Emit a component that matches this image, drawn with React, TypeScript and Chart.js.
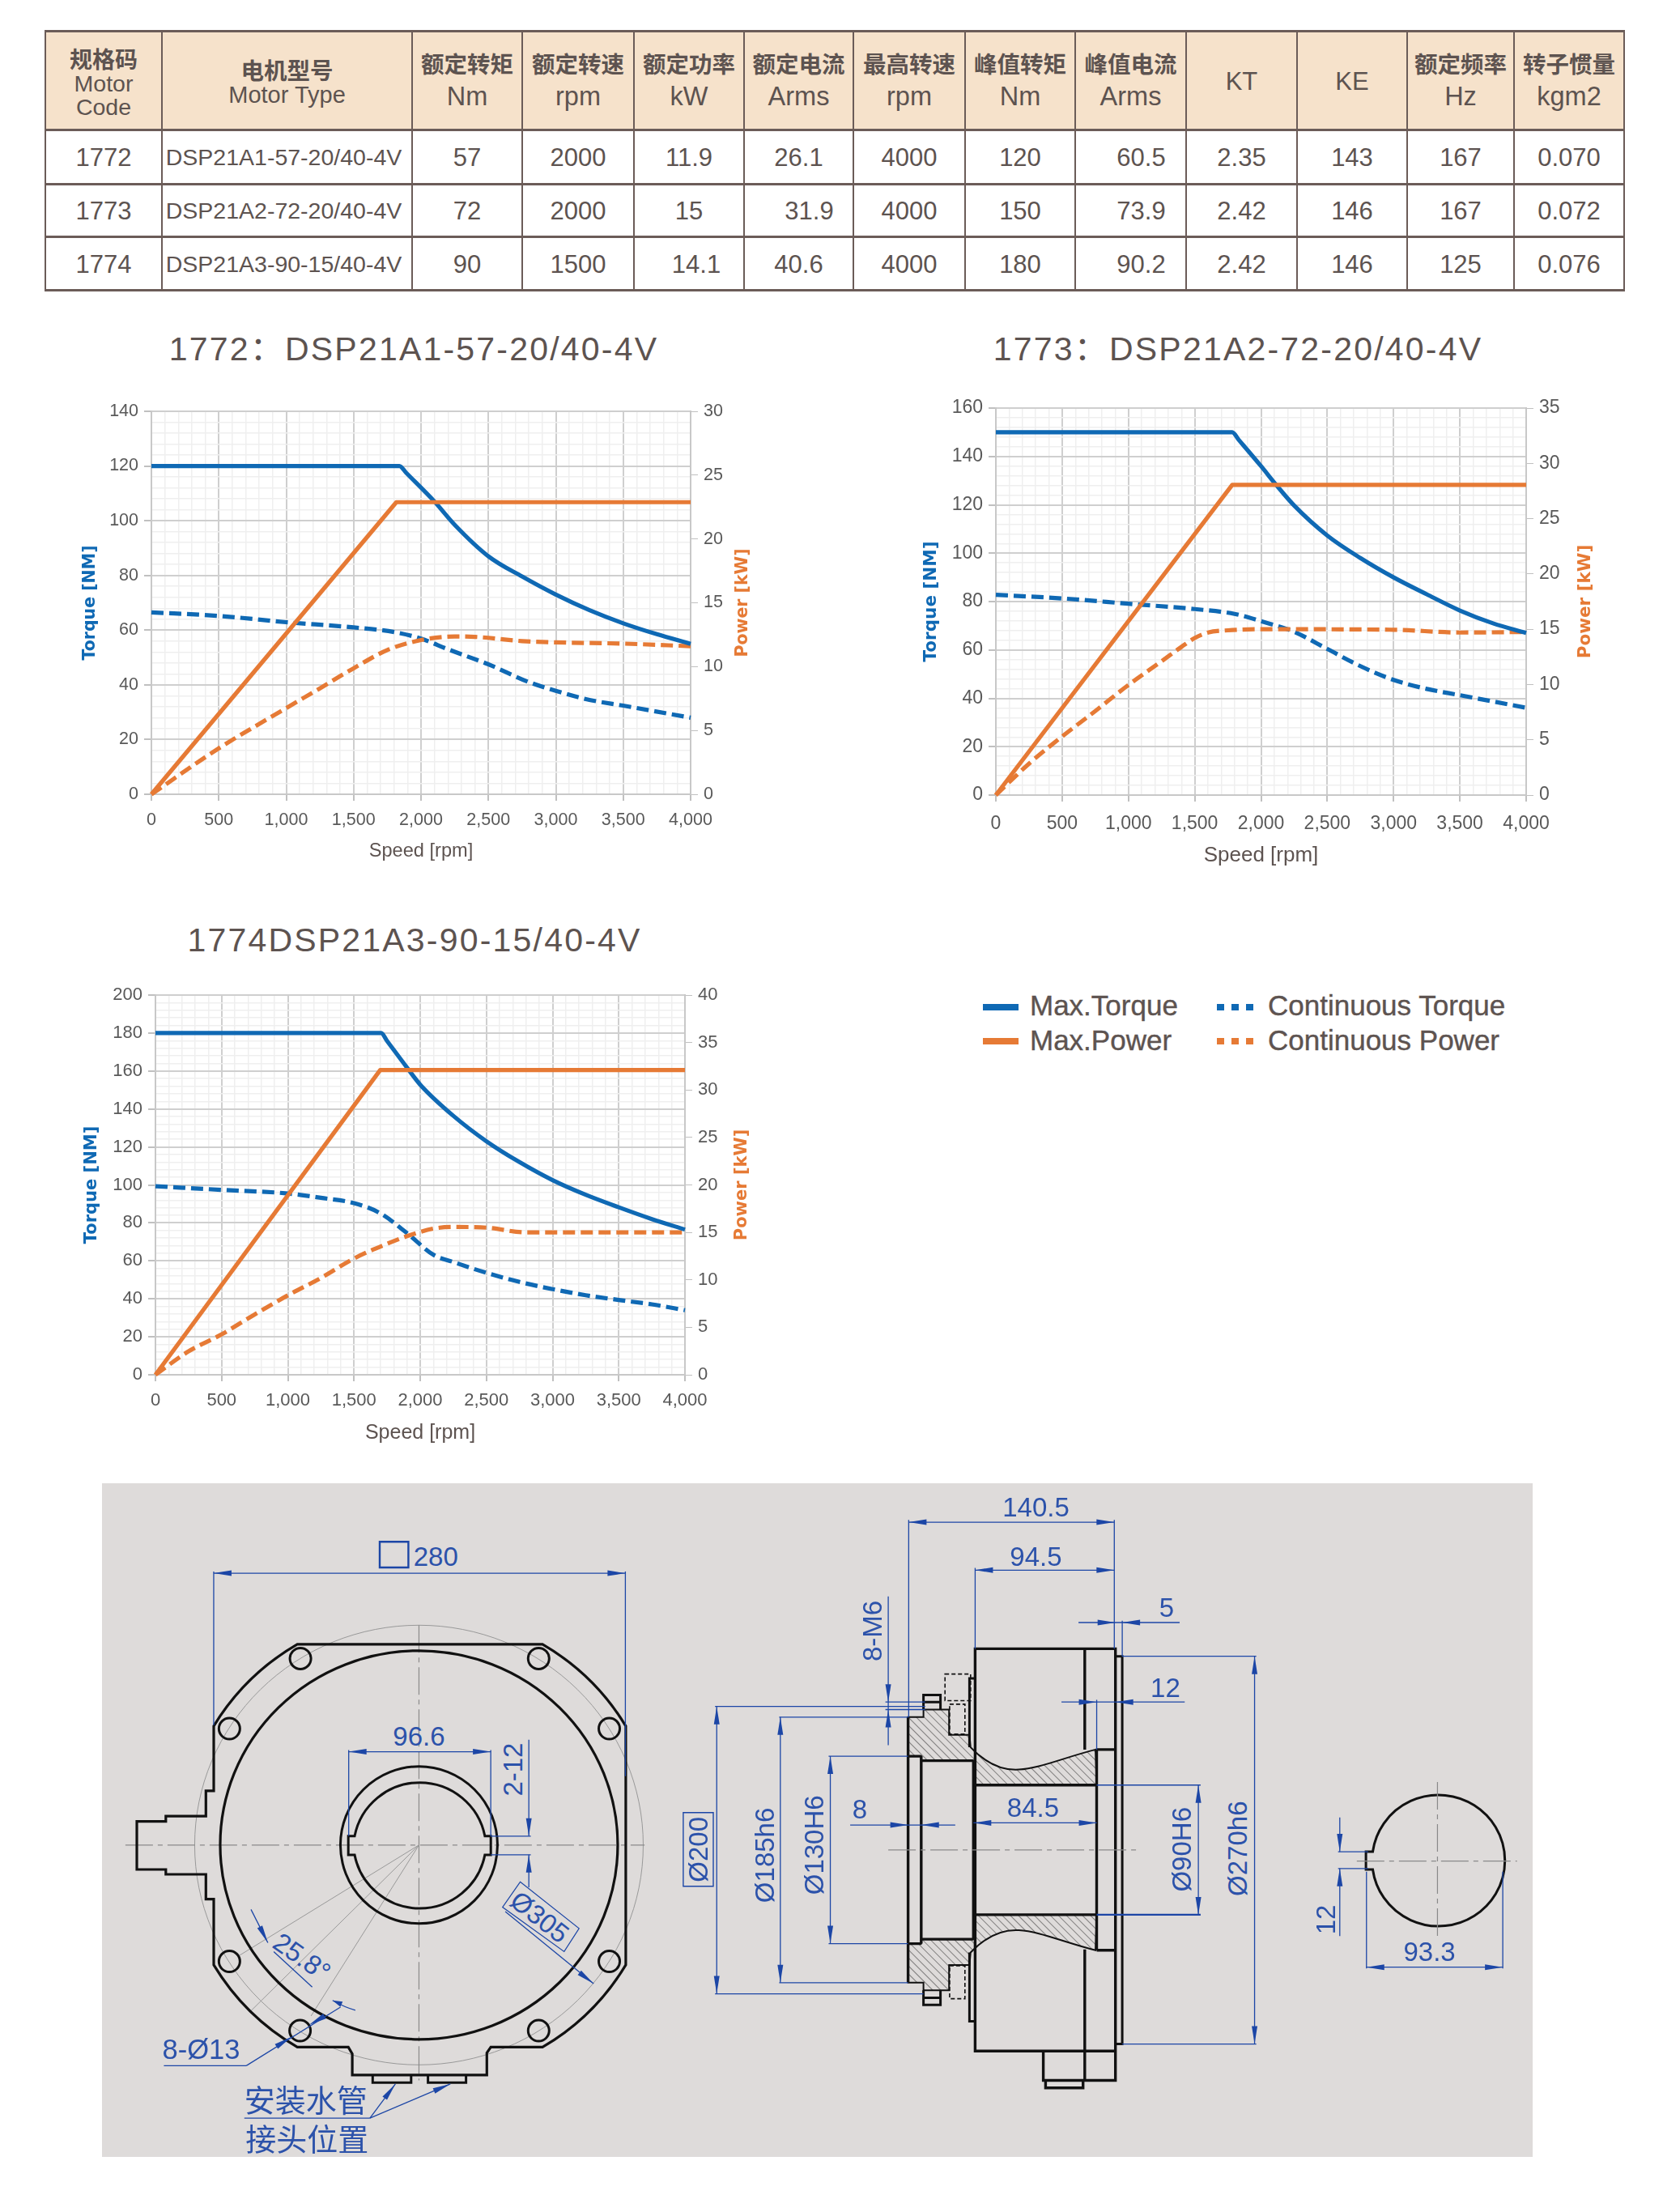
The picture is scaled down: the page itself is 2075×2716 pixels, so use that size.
import React, { useEffect, useRef } from "react";
import { Chart, registerables } from "chart.js";

Chart.register(...registerables);

// ---------- table ----------
const headerZh = ["额定转矩", "额定转速", "额定功率", "额定电流", "最高转速", "峰值转矩", "峰值电流", "", "", "额定频率", "转子惯量"];
const headerUnits = ["Nm", "rpm", "kW", "Arms", "rpm", "Nm", "Arms", "KT", "KE", "Hz", "kgm2"];
const row1772 = ["1772", "DSP21A1-57-20/40-4V", "57", "2000", "11.9", "26.1", "4000", "120", "60.5", "2.35", "143", "167", "0.070"];
const row1773 = ["1773", "DSP21A2-72-20/40-4V", "72", "2000", "15", "31.9", "4000", "150", "73.9", "2.42", "146", "167", "0.072"];
const row1774 = ["1774", "DSP21A3-90-15/40-4V", "90", "1500", "14.1", "40.6", "4000", "180", "90.2", "2.42", "146", "125", "0.076"];
const tableRows = [row1772, row1773, row1774];

// ---------- chart data: 1772 ----------
const maxTorqueRpm1772 = [0, 1840, 1890, 2100, 2250, 2500, 2750, 3000, 3250, 3500, 3750, 4000];
const maxTorque1772 = [120, 120, 117.5, 107, 98.5, 87, 79.6, 73, 67.3, 62.5, 58.5, 55];
const maxPowerRpm1772 = [0, 1817, 4000];
const maxPower1772 = [0, 22.88, 22.88];
const contTorqueRpm1772 = [0, 500, 1000, 1500, 1800, 2000, 2200, 2500, 2800, 3000, 3250, 3500, 4000];
const contTorque1772 = [66.5, 65.2, 62.9, 61, 59.3, 56.9, 53, 47.5, 41, 37.8, 34.5, 32.4, 28];
const contPowerRpm1772 = [0, 500, 1000, 1250, 1500, 1750, 2000, 2250, 2400, 2750, 3000, 3500, 4000];
const contPower1772 = [0, 3.6, 6.75, 8.3, 9.87, 11.3, 12.08, 12.36, 12.33, 12, 11.9, 11.8, 11.6];

// ---------- chart data: 1773 ----------
const maxTorqueRpm1773 = [0, 1783, 1830, 2000, 2115, 2250, 2500, 2750, 3000, 3250, 3500, 3750, 4000];
const maxTorque1773 = [150, 150, 147, 136, 128.2, 119.7, 107.3, 98, 90, 83, 76.3, 71, 67];
const maxPowerRpm1773 = [0, 1783, 4000];
const maxPower1773 = [0, 28.05, 28.05];
const contTorqueRpm1773 = [0, 500, 1000, 1500, 1800, 2000, 2250, 2500, 2750, 3000, 3250, 3500, 3750, 4000];
const contTorque1773 = [82.8, 81.3, 79.1, 76.9, 74.9, 71.9, 67.5, 60.4, 53.3, 47.6, 43.9, 41.3, 38.7, 36.1];
const contPowerRpm1773 = [0, 250, 500, 750, 1000, 1250, 1400, 1500, 1600, 1750, 2000, 3000, 3500, 4000];
const contPower1773 = [0, 2.84, 5.3, 7.6, 9.96, 12.1, 13.4, 14.2, 14.7, 14.9, 15, 14.95, 14.7, 14.75];

// ---------- chart data: 1774 ----------
const maxTorqueRpm1774 = [0, 1705, 1750, 1898, 2003, 2250, 2500, 2750, 3000, 3250, 3500, 3750, 4000];
const maxTorque1774 = [180, 180, 175.8, 162, 152.6, 136.4, 123, 112, 102.5, 94.8, 88.2, 82, 76.5];
const maxPowerRpm1774 = [0, 1698, 4000];
const maxPower1774 = [0, 32.1, 32.1];
const contTorqueRpm1774 = [0, 500, 1000, 1250, 1500, 1700, 1900, 2100, 2250, 2500, 2750, 3000, 3250, 3500, 3750, 4000];
const contTorque1774 = [99.3, 97.4, 95.5, 93.2, 90.4, 85, 74.6, 63.2, 59.4, 53.7, 48.9, 45.1, 41.9, 39.4, 37.1, 34];
const contPowerRpm1774 = [0, 250, 500, 750, 1000, 1250, 1500, 1750, 1900, 2100, 2250, 2500, 2800, 4000];
const contPower1774 = [0, 2.47, 4.26, 6.36, 8.37, 10.2, 12.25, 13.8, 14.6, 15.4, 15.57, 15.5, 15, 15];

// ---------- labels ----------
const seriesNames = ["Max.Torque", "Max.Power", "Continuous Torque", "Continuous Power"];
const torqueAxisTitle = "Torque [NM]";
const powerAxisTitle = "Power [kW]";
const speedAxisTitle = "Speed [rpm]";

const BLUE = "#0F69B4";
const ORANGE = "#E67A35";
const TEXT = "#5D5350";
const TICK = "#595959";
const pts = (xs: number[], ys: number[]) => xs.map((x, i) => ({ x, y: ys[i] }));

const powerTitlePlugin = {
  id: "powerTitle",
  afterDraw(chart: any, _a: any, opts: any) {
    const { ctx, chartArea } = chart;
    ctx.save();
    ctx.translate(chartArea.right + opts.offset, (chartArea.top + chartArea.bottom) / 2);
    ctx.rotate(-Math.PI / 2);
    ctx.font = `bold ${opts.size}px 'DejaVu Sans'`;
    ctx.fillStyle = ORANGE;
    ctx.textAlign = "center";
    ctx.textBaseline = "middle";
    ctx.fillText(powerAxisTitle, 0, 0);
    ctx.restore();
  },
};

type Spec = {
  plot: [number, number, number, number];
  torqueMax: number; powerMax: number;
  torqueOffset: number; powerOffset: number;
  tickSize: number; tickPad: number; speedSize: number; speedBottom: number; axisTitleSize: number;
  series: { x: number[]; y: number[] }[];
};

const specs: Spec[] = [
  { plot: [187, 853, 508, 981], torqueMax: 140, powerMax: 30, torqueOffset: 75, powerOffset: 65,
    tickSize: 21.5, tickPad: 11.5, speedSize: 23.6, speedBottom: 5, axisTitleSize: 20.5,
    series: [{ x: maxTorqueRpm1772, y: maxTorque1772 }, { x: maxPowerRpm1772, y: maxPower1772 }, { x: contTorqueRpm1772, y: contTorque1772 }, { x: contPowerRpm1772, y: contPower1772 }] },
  { plot: [1230, 1885, 504, 982], torqueMax: 160, powerMax: 35, torqueOffset: 80, powerOffset: 73,
    tickSize: 23, tickPad: 14, speedSize: 26, speedBottom: 0, axisTitleSize: 21.5,
    series: [{ x: maxTorqueRpm1773, y: maxTorque1773 }, { x: maxPowerRpm1773, y: maxPower1773 }, { x: contTorqueRpm1773, y: contTorque1773 }, { x: contPowerRpm1773, y: contPower1773 }] },
  { plot: [192, 846, 1229, 1698], torqueMax: 200, powerMax: 40, torqueOffset: 78, powerOffset: 71,
    tickSize: 22, tickPad: 11, speedSize: 25, speedBottom: 3, axisTitleSize: 21,
    series: [{ x: maxTorqueRpm1774, y: maxTorque1774 }, { x: maxPowerRpm1774, y: maxPower1774 }, { x: contTorqueRpm1774, y: contTorque1774 }, { x: contPowerRpm1774, y: contPower1774 }] },
];

function MotorChart({ spec }: { spec: Spec }) {
  const ref = useRef<HTMLCanvasElement>(null);
  const [l, r, t, b] = spec.plot;
  const padL = 100, padR = 90, padT = 30, padB = 90;
  const w = r - l + padL + padR, h = b - t + padT + padB;
  useEffect(() => {
    const tickFont = { family: "'Liberation Sans'", size: spec.tickSize };
    const ds = (i: number, color: string, dashed: boolean, axis: string, name: string, smooth: boolean) => ({
      label: name,
      data: pts(spec.series[i].x, spec.series[i].y),
      yAxisID: axis,
      borderColor: color,
      borderWidth: 5.2,
      borderDash: dashed ? [15, 7] : [],
      pointRadius: 0,
      fill: false,
      clip: false as any,
      tension: 0,
      cubicInterpolationMode: smooth ? "monotone" : "default",
      borderJoinStyle: "round",
    });
    const chart = new Chart(ref.current!, {
      type: "line",
      data: {
        datasets: [
          ds(1, ORANGE, false, "yP", seriesNames[1], false),
          ds(0, BLUE, false, "yT", seriesNames[0], true),
          ds(3, ORANGE, true, "yP", seriesNames[3], true),
          ds(2, BLUE, true, "yT", seriesNames[2], true),
        ],
      } as any,
      plugins: [powerTitlePlugin as any],
      options: {
        animation: false,
        responsive: false,
        devicePixelRatio: 1,
        layout: { padding: { top: padT, left: 0, right: 0, bottom: 0 } },
        plugins: { legend: { display: false }, tooltip: { enabled: false }, powerTitle: { offset: spec.powerOffset, size: spec.axisTitleSize } } as any,
        scales: {
          x: {
            type: "linear", min: 0, max: 4000,
            afterFit: (s: any) => { s.height = padB; },
            border: { color: "#C8C8C8", width: 2 },
            grid: {
              color: (c: any) => (c.tick.value % 500 === 0 ? "#CFCFCF" : "#EFEFEF"),
              lineWidth: (c: any) => (c.tick.value % 500 === 0 ? 2 : 1.5),
              tickColor: (c: any) => (c.tick.value % 500 === 0 ? "#C0C0C0" : "transparent"),
              tickLength: 8,
            },
            ticks: {
              stepSize: 100, autoSkip: false, maxRotation: 0, minRotation: 0, padding: spec.tickPad,
              color: TICK, font: tickFont,
              callback: (v: any) => (v % 500 === 0 ? Number(v).toLocaleString("en-US") : ""),
            },
            title: { display: true, text: speedAxisTitle, color: TEXT, font: { family: "'Liberation Sans'", size: spec.speedSize }, padding: { top: 0, bottom: spec.speedBottom } },
          },
          yT: {
            type: "linear", position: "left", min: 0, max: spec.torqueMax,
            afterFit: (s: any) => { s.width = padL; },
            border: { color: "#C8C8C8", width: 2 },
            grid: {
              color: (c: any) => (c.tick.value % 20 === 0 ? "#CFCFCF" : "#EFEFEF"),
              lineWidth: (c: any) => (c.tick.value % 20 === 0 ? 2 : 1.5),
              tickColor: (c: any) => (c.tick.value % 20 === 0 ? "#C0C0C0" : "transparent"),
              tickLength: 9,
            },
            ticks: {
              stepSize: 4, autoSkip: false, padding: 7, color: TICK, font: tickFont,
              callback: (v: any) => (v % 20 === 0 ? String(v) : ""),
            },
            title: { display: true, text: torqueAxisTitle, color: BLUE, font: { family: "'DejaVu Sans'", size: spec.axisTitleSize, weight: "bold" }, padding: { top: padL - spec.torqueOffset - spec.axisTitleSize * 0.6, bottom: 0 } },
          },
          yP: {
            type: "linear", position: "right", min: 0, max: spec.powerMax,
            afterFit: (s: any) => { s.width = padR; },
            border: { color: "#C8C8C8", width: 2 },
            grid: { drawOnChartArea: false, tickColor: "#C0C0C0", tickLength: 9 },
            ticks: { stepSize: 5, autoSkip: false, padding: 7, color: TICK, font: tickFont },
          },
        },
      } as any,
    });
    return () => chart.destroy();
  }, []);
  return <canvas ref={ref} width={w} height={h} style={{ position: "absolute", left: l - padL, top: t - padT, width: w, height: h, display: "block" }} />;
}

// ---------- layout helpers ----------
function Txt({ x, y, size, children, color = TEXT, weight = 400, spacing = 0, family = "'Liberation Sans','Noto Sans CJK SC'" }: any) {
  return (
    <div style={{ position: "absolute", left: x, top: y, transform: "translate(-50%,-50%)", fontSize: size, color, fontWeight: weight, letterSpacing: spacing, fontFamily: family, whiteSpace: "nowrap", lineHeight: 1 }}>
      {children}
    </div>
  );
}

const colX = [56, 200, 509, 645, 783, 919, 1054, 1192, 1328, 1465, 1602, 1738, 1870, 2006];
const rowY = [38, 160, 227, 292, 358];
const bodyY = [194, 260, 326];
const CJK = "'Noto Sans CJK SC','Liberation Sans'";
const nudgeOf = (r: number, c: number) => {
  if (c === 1) return -4;
  if (c === 8) return 13;
  if (c === 5 && r === 1) return 13;
  if (c === 4 && r === 2) return 9;
  return 0;
};

function SpecTable() {
  const center = (c: number) => (colX[c] + colX[c + 1]) / 2;
  return (
    <>
      <div style={{ position: "absolute", left: colX[0], top: rowY[0], width: colX[13] - colX[0], height: rowY[1] - rowY[0], background: "#F6E2CB" }} />
      {colX.map((x) => <div key={x} style={{ position: "absolute", left: x - 1, top: rowY[0], width: 2, height: rowY[4] - rowY[0], background: "#6B5C58" }} />)}
      {rowY.map((y) => <div key={y} style={{ position: "absolute", left: colX[0] - 1, top: y - 1, width: colX[13] - colX[0] + 2, height: 2.5, background: "#6B5C58" }} />)}
      <Txt x={center(0)} y={71.5} size={28} family={CJK} weight={700}>规格码</Txt>
      <Txt x={center(0)} y={102.5} size={28.5}>Motor</Txt>
      <Txt x={center(0)} y={132} size={28.5}>Code</Txt>
      <Txt x={center(1)} y={86} size={28.5} family={CJK} weight={700}>电机型号</Txt>
      <Txt x={center(1)} y={117} size={29}>Motor Type</Txt>
      {headerUnits.map((u, i) => (
        <React.Fragment key={i}>
          {headerZh[i] ? <Txt x={center(i + 2)} y={78} size={28.5} family={CJK} weight={700}>{headerZh[i]}</Txt> : null}
          <Txt x={center(i + 2)} y={headerZh[i] ? 118.5 : 100} size={headerZh[i] ? 32.5 : 31}>{u}</Txt>
        </React.Fragment>
      ))}
      {tableRows.map((row, r) => row.map((v, c) => (
        <Txt key={r + "-" + c} x={center(c) + nudgeOf(r, c)} y={bodyY[r]} size={c === 1 ? 28.5 : 31}>{v}</Txt>
      )))}
    </>
  );
}

function Legend() {
  const solid = (top: number, bg: string) => <div style={{ position: "absolute", left: 1214, top, width: 44, height: 8, background: bg }} />;
  const dots = (top: number, bg: string) => [1503, 1521, 1539].map((x) => <div key={x} style={{ position: "absolute", left: x, top, width: 8.5, height: 8, background: bg }} />);
  const label = (x: number, y: number, s: string) => <div style={{ position: "absolute", left: x, top: y, transform: "translateY(-50%)", fontSize: 35, color: TEXT, fontFamily: "'Liberation Sans'", lineHeight: 1, whiteSpace: "nowrap", WebkitTextStroke: "0.4px " + TEXT } as any}>{s}</div>;
  return (
    <>
      {solid(1240, BLUE)}{solid(1282, ORANGE)}{dots(1240, BLUE)}{dots(1282, ORANGE)}
      {label(1272, 1241, seriesNames[0])}{label(1272, 1284, seriesNames[1])}
      {label(1566, 1241, seriesNames[2])}{label(1566, 1284, seriesNames[3])}
    </>
  );
}

// ---------- engineering drawing (illustration, not chart data) ----------
const LV = (x: number, y: number): [number, number] => [120 + x * 0.4847, 1840 + y * 0.5485];
const RV = (x: number, y: number): [number, number] => [820 + x * 0.7015, 1840 + y * 0.5485];
const mapD = (d: string, f: any, mirror = false) =>
  d.replace(/(-?\d+(?:\.\d+)?),(-?\d+(?:\.\d+)?)/g, (_m, a, b) => {
    const p = f(+a, mirror ? 1622 - +b : +b);
    return p[0].toFixed(1) + "," + p[1].toFixed(1);
  });
const DIM = "#1C46A6";
const DTXT = "#2C52AA";

function Line({ v, a, b, c = DIM, w = 1.3, dash }: any) {
  const p = v(a[0], a[1]), q = v(b[0], b[1]);
  return <line x1={p[0]} y1={p[1]} x2={q[0]} y2={q[1]} stroke={c} strokeWidth={w} strokeDasharray={dash} />;
}
function Arrow({ v, tip, from, len = 22 }: any) {
  const p = v(tip[0], tip[1]), q = v(from[0], from[1]);
  const ang = Math.atan2(q[1] - p[1], q[0] - p[0]);
  const cx = p[0] + Math.cos(ang) * len, cy = p[1] + Math.sin(ang) * len;
  const nx = -Math.sin(ang) * 3.5, ny = Math.cos(ang) * 3.5;
  return <polygon points={`${p[0]},${p[1]} ${cx + nx},${cy + ny} ${cx - nx},${cy - ny}`} fill={DIM} />;
}
function Label({ v, at, s, size = 33, rot = 0, color = DTXT, family = "'Liberation Sans','Noto Sans CJK SC'" }: any) {
  const p = v(at[0], at[1]);
  return <text x={p[0]} y={p[1]} fontSize={size} fill={color} fontFamily={family} textAnchor="middle" dominantBaseline="central" transform={rot ? `rotate(${rot} ${p[0]} ${p[1]})` : undefined}>{s}</text>;
}
function Shape({ v, d, w = 3, fill = "none", c = "#111", mirror = false, dash }: any) {
  return <path d={mapD(d, v, mirror)} fill={fill} stroke={c} strokeWidth={w} strokeDasharray={dash} strokeLinejoin="miter" />;
}

const plateOutline = "M510,348 L1135,348 A 292 292 0 0 1 1347,532 L1347,1070 A 292 292 0 0 1 1135,1255 L1003,1255 L993,1268 L993,1318 L650,1318 L650,1270 L640,1255 L510,1255 A 292 292 0 0 1 297,1070 L297,922 L277,922 L277,866 L175,866 L175,855 L101,855 L101,747 L175,747 L175,735 L277,735 L277,678 L297,678 L297,532 A 292 292 0 0 1 510,348 Z";
const boltHoles: [number, number][] = [[518, 380], [1125, 380], [337, 538], [1305, 538], [337, 1062], [1305, 1062], [517, 1218], [1125, 1218]];
const hubSection = "M430,512 L457,512 L457,495 L502,495 L502,552 L538,552 L540,580 C570,620 600,632 625,630 C660,628 700,605 760,585 L762,665 L545,665 L545,610 L453,610 L453,600 L430,600 Z";

function Drawing() {
  const c = LV(820, 800);
  return (
    <svg width={2075} height={2716} style={{ position: "absolute", left: 0, top: 0 }}>
      <defs>
        <pattern id="hatch" patternUnits="userSpaceOnUse" width="7" height="7" patternTransform="rotate(-45)">
          <line x1="0" y1="0" x2="0" y2="7" stroke="#222" strokeWidth="1" />
        </pattern>
      </defs>
      <rect x={126} y={1832} width={1767} height={832} fill="#DEDBDA" />
      {/* left view */}
      <ellipse cx={c[0]} cy={c[1]} rx={277} ry={271.5} fill="none" stroke="#999" strokeWidth={1} />
      <Line v={LV} a={[72, 800]} b={[1395, 800]} c="#8A8A8A" w={1.2} dash="34 6 6 6" />
      <Line v={LV} a={[820, 305]} b={[820, 1330]} c="#8A8A8A" w={1.2} dash="34 6 6 6" />
      <Line v={LV} a={[820, 800]} b={[390, 1175]} c="#999" w={1} />
      <Line v={LV} a={[820, 800]} b={[360, 1050]} c="#999" w={1} />
      <Line v={LV} a={[820, 800]} b={[545, 1185]} c="#999" w={1} />
      <Shape v={LV} d={plateOutline} w={3.2} />
      <ellipse cx={c[0]} cy={c[1]} rx={245.5} ry={240} fill="none" stroke="#111" strokeWidth={3.2} />
      <circle cx={c[0]} cy={c[1]} r={97} fill="none" stroke="#111" strokeWidth={3} />
      <Shape v={LV} d="M656,780 A 82 82 0 0 1 988,780 L1003,780 L1003,822 L988,822 A 82 82 0 0 1 656,822 L640,822 L640,780 Z" w={3} />
      {boltHoles.map(([x, y]) => { const p = LV(x, y); return <circle key={x + "-" + y} cx={p[0]} cy={p[1]} r={13} fill="none" stroke="#111" strokeWidth={3} />; })}
      <Shape v={LV} d="M702,1318 L702,1335 L800,1335 L800,1318 M843,1318 L843,1335 L940,1335 L940,1318" w={3} />
      {/* left dims */}
      <Line v={LV} a={[297, 188]} b={[1346, 188]} />
      <Line v={LV} a={[297, 184]} b={[297, 530]} />
      <Line v={LV} a={[1346, 184]} b={[1346, 645]} />
      <Arrow v={LV} tip={[297, 188]} from={[400, 188]} />
      <Arrow v={LV} tip={[1346, 188]} from={[1200, 188]} />
      <Shape v={LV} d="M720,117 L793,117 L793,175 L720,175 Z" w={2.4} c={DIM} />
      <Label v={LV} at={[863, 150]} s="280" />
      <Line v={LV} a={[641, 590]} b={[1003, 590]} />
      <Line v={LV} a={[641, 586]} b={[641, 780]} />
      <Line v={LV} a={[1003, 586]} b={[1003, 780]} />
      <Arrow v={LV} tip={[641, 590]} from={[800, 590]} />
      <Arrow v={LV} tip={[1003, 590]} from={[800, 590]} />
      <Label v={LV} at={[820, 555]} s="96.6" />
      <Label v={LV} at={[1060, 630]} s="2-12" rot={-90} />
      <Line v={LV} a={[1100, 563]} b={[1100, 780]} />
      <Line v={LV} a={[1100, 822]} b={[1100, 895]} />
      <Line v={LV} a={[1003, 780]} b={[1105, 780]} />
      <Line v={LV} a={[1003, 822]} b={[1105, 822]} />
      <Arrow v={LV} tip={[1100, 780]} from={[1100, 600]} />
      <Arrow v={LV} tip={[1100, 822]} from={[1100, 890]} />
      <Label v={LV} at={[1128, 962]} s="Ø305" rot={38} />
      <Shape v={LV} d="M1078,883 L1228,988 L1190,1040 L1033,940 Z" w={1.2} c={DIM} />
      <Line v={LV} a={[1040, 950]} b={[1265, 1112]} />
      <Arrow v={LV} tip={[1265, 1112]} from={[1100, 1000]} />
      <Label v={LV} at={[522, 1052]} s="25.8°" rot={35} />
      <Line v={LV} a={[450, 1040]} b={[548, 1120]} />
      <Line v={LV} a={[392, 945]} b={[435, 1020]} />
      <Arrow v={LV} tip={[435, 1020]} from={[392, 945]} />
      <Shape v={LV} d="M600,1150 C620,1160 640,1168 658,1172" w={1.2} c={DIM} />
      <Arrow v={LV} tip={[600, 1150]} from={[658, 1172]} len={12} />
      <Label v={LV} at={[265, 1260]} s="8-Ø13" size={34.5} />
      <Line v={LV} a={[170, 1297]} b={[380, 1297]} />
      <Line v={LV} a={[380, 1297]} b={[620, 1165]} />
      <Arrow v={LV} tip={[495, 1232]} from={[380, 1297]} />
      <Arrow v={LV} tip={[540, 1205]} from={[610, 1170]} />
      <Label v={LV} at={[532, 1371]} s="安装水管" size={38} family="'Noto Sans CJK SC'" />
      <Label v={LV} at={[535, 1458]} s="接头位置" size={38} family="'Noto Sans CJK SC'" />
      <Line v={LV} a={[375, 1415]} b={[695, 1415]} />
      <Line v={LV} a={[695, 1415]} b={[760, 1338]} />
      <Line v={LV} a={[695, 1415]} b={[900, 1338]} />
      <Arrow v={LV} tip={[760, 1338]} from={[695, 1415]} />
      <Arrow v={LV} tip={[900, 1338]} from={[695, 1415]} />
      {/* section view */}
      <Shape v={RV} d={hubSection} fill="url(#hatch)" w={2} />
      <Shape v={RV} d={hubSection} fill="url(#hatch)" w={2} mirror />
      <Shape v={RV} d="M548,358 L795,358 L795,1264 L548,1264 Z M548,358 L548,595 M741,358 L741,585 M741,1035 L741,1330 M795,1264 L795,1330 L668,1330 L668,1264 M672,1330 L672,1347 L738,1347 L738,1330" w={3.4} />
      <Shape v={RV} d="M795,375 L807,375 L807,1248 L795,1248" w={3} />
      <Shape v={RV} d="M548,425 L538,425 L538,580 M548,1197 L538,1197 L538,1042" w={3} />
      <Shape v={RV} d="M545,665 L762,665 M762,585 L795,585 M762,585 L762,1037 M762,1037 L795,1037 M545,957 L762,957 M545,610 L545,1012 M430,512 L430,1110 M453,600 L453,1022 M430,600 L453,600 M430,1022 L453,1022 M453,610 L545,610 M453,1012 L545,1012" w={3.4} />
      <Shape v={RV} d="M457,495 L457,462 L487,462 L487,495 M457,478 L487,478" w={3} />
      <Shape v={RV} d="M457,495 L457,462 L487,462 L487,495 M457,478 L487,478" w={3} mirror />
      <Shape v={RV} d="M495,415 L540,415 L540,475 L495,475 Z M503,483 L530,483 L530,550 L503,550 Z" w={1.6} dash="5 3" />
      <Shape v={RV} d="M503,1072 L530,1072 L530,1146 L503,1146 Z" w={1.6} dash="5 3" />
      <Line v={RV} a={[395, 811]} b={[833, 811]} c="#8A8A8A" w={1.2} dash="34 6 6 6" />
      {/* section dims */}
      <Line v={RV} a={[431, 73]} b={[793, 73]} />
      <Line v={RV} a={[431, 68]} b={[431, 512]} />
      <Line v={RV} a={[793, 68]} b={[793, 358]} />
      <Arrow v={RV} tip={[431, 73]} from={[600, 73]} />
      <Arrow v={RV} tip={[793, 73]} from={[600, 73]} />
      <Label v={RV} at={[655, 40]} s="140.5" />
      <Line v={RV} a={[548, 181]} b={[793, 181]} />
      <Line v={RV} a={[548, 176]} b={[548, 358]} />
      <Arrow v={RV} tip={[548, 181]} from={[650, 181]} />
      <Arrow v={RV} tip={[793, 181]} from={[650, 181]} />
      <Label v={RV} at={[655, 150]} s="94.5" />
      <Line v={RV} a={[730, 299]} b={[908, 299]} />
      <Line v={RV} a={[807, 295]} b={[807, 375]} />
      <Arrow v={RV} tip={[795, 299]} from={[730, 299]} />
      <Arrow v={RV} tip={[807, 299]} from={[900, 299]} />
      <Label v={RV} at={[885, 265]} s="5" />
      <Line v={RV} a={[700, 478]} b={[917, 478]} />
      <Line v={RV} a={[762, 473]} b={[762, 585]} />
      <Arrow v={RV} tip={[762, 478]} from={[700, 478]} />
      <Arrow v={RV} tip={[795, 478]} from={[900, 478]} />
      <Label v={RV} at={[883, 445]} s="12" />
      <Label v={RV} at={[367, 318]} s="8-M6" rot={-90} />
      <Line v={RV} a={[395, 240]} b={[395, 575]} />
      <Line v={RV} a={[390, 478]} b={[460, 478]} />
      <Line v={RV} a={[390, 495]} b={[460, 495]} />
      <Arrow v={RV} tip={[395, 478]} from={[395, 400]} />
      <Arrow v={RV} tip={[395, 495]} from={[395, 570]} />
      <Shape v={RV} d="M34,727 L87,727 L87,893 L34,893 Z" w={1.4} c={DIM} />
      <Label v={RV} at={[60, 810]} s="Ø200" rot={-90} />
      <Line v={RV} a={[93, 488]} b={[93, 1135]} />
      <Line v={RV} a={[90, 488]} b={[460, 488]} />
      <Line v={RV} a={[90, 1135]} b={[457, 1135]} />
      <Arrow v={RV} tip={[93, 488]} from={[93, 700]} />
      <Arrow v={RV} tip={[93, 1135]} from={[93, 900]} />
      <Label v={RV} at={[177, 823]} s="Ø185h6" rot={-90} />
      <Line v={RV} a={[205, 512]} b={[205, 1110]} />
      <Line v={RV} a={[203, 512]} b={[430, 512]} />
      <Line v={RV} a={[203, 1110]} b={[430, 1110]} />
      <Arrow v={RV} tip={[205, 512]} from={[205, 700]} />
      <Arrow v={RV} tip={[205, 1110]} from={[205, 900]} />
      <Label v={RV} at={[265, 800]} s="Ø130H6" rot={-90} />
      <Line v={RV} a={[293, 600]} b={[293, 1022]} />
      <Line v={RV} a={[290, 600]} b={[430, 600]} />
      <Line v={RV} a={[290, 1022]} b={[430, 1022]} />
      <Arrow v={RV} tip={[293, 600]} from={[293, 800]} />
      <Arrow v={RV} tip={[293, 1022]} from={[293, 800]} />
      <Label v={RV} at={[345, 720]} s="8" />
      <Line v={RV} a={[328, 755]} b={[513, 755]} />
      <Arrow v={RV} tip={[430, 755]} from={[330, 755]} />
      <Arrow v={RV} tip={[453, 755]} from={[513, 755]} />
      <Label v={RV} at={[650, 716]} s="84.5" />
      <Line v={RV} a={[545, 750]} b={[762, 750]} />
      <Arrow v={RV} tip={[545, 750]} from={[650, 750]} />
      <Arrow v={RV} tip={[762, 750]} from={[650, 750]} />
      <Label v={RV} at={[912, 810]} s="Ø90H6" rot={-90} />
      <Line v={RV} a={[941, 665]} b={[941, 957]} />
      <Line v={RV} a={[762, 665]} b={[945, 665]} />
      <Line v={RV} a={[762, 957]} b={[945, 957]} w={2.4} />
      <Arrow v={RV} tip={[941, 665]} from={[941, 800]} />
      <Arrow v={RV} tip={[941, 957]} from={[941, 800]} />
      <Label v={RV} at={[1010, 808]} s="Ø270h6" rot={-90} />
      <Line v={RV} a={[1040, 375]} b={[1040, 1248]} />
      <Line v={RV} a={[807, 375]} b={[1043, 375]} />
      <Line v={RV} a={[807, 1248]} b={[1043, 1248]} />
      <Arrow v={RV} tip={[1040, 375]} from={[1040, 700]} />
      <Arrow v={RV} tip={[1040, 1248]} from={[1040, 900]} />
      {/* small shaft section */}
      <Shape v={RV} d="M1248,815 A 82 81 0 1 1 1248,855 L1236,855 L1236,815 Z" w={3} />
      <Line v={RV} a={[1362, 658]} b={[1362, 1010]} c="#8A8A8A" w={1.2} dash="34 6 6 6" />
      <Line v={RV} a={[1220, 836]} b={[1502, 836]} c="#8A8A8A" w={1.2} dash="34 6 6 6" />
      <Label v={RV} at={[1165, 968]} s="12" rot={-90} />
      <Line v={RV} a={[1190, 738]} b={[1190, 815]} />
      <Line v={RV} a={[1190, 853]} b={[1190, 1005]} />
      <Line v={RV} a={[1187, 815]} b={[1240, 815]} />
      <Line v={RV} a={[1187, 853]} b={[1240, 853]} />
      <Arrow v={RV} tip={[1190, 815]} from={[1190, 740]} />
      <Arrow v={RV} tip={[1190, 853]} from={[1190, 930]} />
      <Label v={RV} at={[1348, 1040]} s="93.3" />
      <Line v={RV} a={[1237, 1075]} b={[1477, 1075]} />
      <Line v={RV} a={[1237, 860]} b={[1237, 1078]} />
      <Line v={RV} a={[1477, 860]} b={[1477, 1078]} />
      <Arrow v={RV} tip={[1237, 1075]} from={[1360, 1075]} />
      <Arrow v={RV} tip={[1477, 1075]} from={[1360, 1075]} />
    </svg>
  );
}

const chartTitles = ["1772：DSP21A1-57-20/40-4V", "1773：DSP21A2-72-20/40-4V", "1774DSP21A3-90-15/40-4V"];
const titleAt: [number, number][] = [[511, 431], [1529, 431], [512, 1161]];

export default function App() {
  return (
    <div style={{ position: "absolute", left: 0, top: 0, width: 2075, height: 2716, overflow: "hidden", background: "#fff" }}>
      <SpecTable />
      {chartTitles.map((t, i) => <Txt key={t} x={titleAt[i][0]} y={titleAt[i][1]} size={41} spacing={2.2}>{t}</Txt>)}
      {specs.map((s, i) => <MotorChart key={i} spec={s} />)}
      <Legend />
      <Drawing />
    </div>
  );
}
